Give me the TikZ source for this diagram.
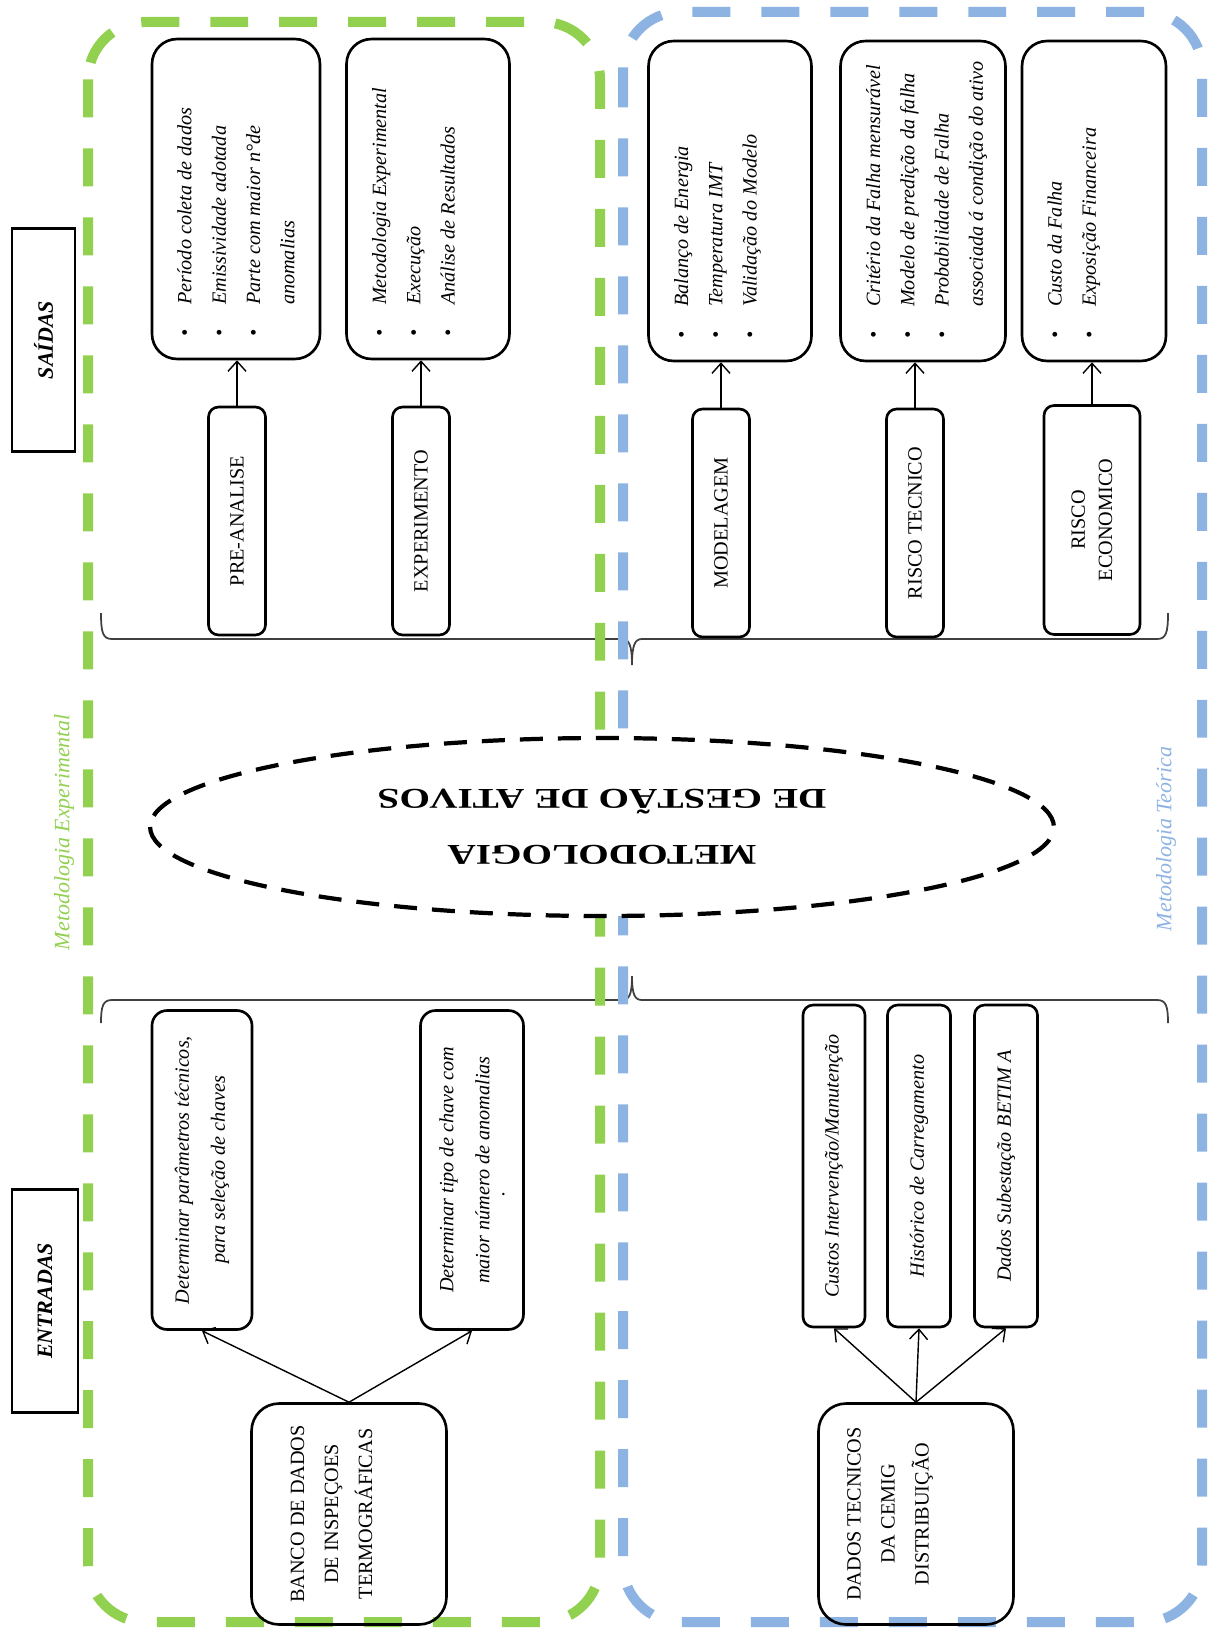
\documentclass[tikz,border=0pt]{standalone}
\usepackage{fontspec}
\setmainfont{Liberation Serif}
\usepackage{graphicx}
\definecolor{verdeexp}{RGB}{146, 208, 80}
\definecolor{azulteo}{RGB}{141, 179, 226}
\usetikzlibrary{shapes.geometric, arrows.meta}

\newcommand{\itens}[3]{\parbox[c][#1][t]{#2}{\fontsize{11.5}{19.5}\selectfont\itshape
	\begin{tabular}[t]{@{}l@{\hspace{0.5cm}}l@{}}#3\end{tabular}}}

\begin{document}
\begin{tikzpicture}[x = 0.02cm, y = -0.02cm, >={Straight Barb[length = 2mm, width = 3.6mm]},
	saida/.style = {draw, line width = 1.5pt, rounded corners = 0.5cm, rotate = 90, minimum width = 6.4cm, inner sep = 0pt},
	etapa/.style = {draw, line width = 1.5pt, rounded corners = 0.2cm, rotate = 90, minimum width = 4.56cm, minimum height = 1.14cm, align = center, font = \fontsize{11.5}{15.5}\selectfont},
	entrada/.style = {draw, line width = 1.5pt, rounded corners = 0.3cm, rotate = 90, align = center, font = \fontsize{11.5}{20.5}\selectfont\itshape},
	fonte/.style = {draw, line width = 1.5pt, rounded corners = 0.55cm, rotate = 90, minimum width = 4.42cm, minimum height = 3.9cm, align = center, font = \fontsize{11.5}{19.3}\selectfont},
	titulo/.style = {draw, line width = 1.5pt, rotate = 90, minimum width = 4.46cm, font = \fontsize{12.5}{15}\selectfont\bfseries\itshape},
	lado/.style = {rotate = 90, font = \fontsize{12.5}{15}\selectfont\itshape},
	moldura/.style = {line width = 0.2cm, dash pattern = on 0.76cm off 0.62cm, rounded corners = 1.15cm},
	chave/.style = {line width = 1pt, black!75},
	seta/.style = {line width = 0.8pt}]

	\useasboundingbox (0, 0) rectangle (1207, 1629);

	% chaves
	\draw[chave] (101, 613) .. controls (101, 633) and (103, 639) .. (112, 639) -- (622, 639) .. controls (629, 639) and (632, 645) .. (632, 665) .. controls (632, 645) and (635, 639) .. (642, 639) -- (1157, 639) .. controls (1166, 639) and (1168, 633) .. (1168, 613);
	\draw[chave] (101, 1023) .. controls (101, 1006) and (103, 1000) .. (112, 1000) -- (622, 1000) .. controls (629, 1000) and (632, 995) .. (632, 976) .. controls (632, 995) and (635, 1000) .. (642, 1000) -- (1157, 1000) .. controls (1166, 1000) and (1168, 1006) .. (1168, 1023);

	% molduras
	\draw[moldura, verdeexp] (88, 22) rectangle (600, 1622);
	\draw[moldura, azulteo] (623, 12) rectangle (1202, 1622);

	% saidas
	\node[saida, minimum height = 3.36cm] (p1) at (236, 199) {\itens{2.74cm}{5.52cm}{\textbullet & Período coleta de dados\\ \textbullet & Emissividade adotada\\ \textbullet & Parte com maior n°de\\ & anomalias}};
	\node[saida, minimum height = 3.26cm] (p2) at (428, 199) {\itens{2.64cm}{5.52cm}{\textbullet & Metodologia Experimental\\ \textbullet & Execução\\ \textbullet & Análise de Resultados}};
	\node[saida, minimum height = 3.26cm] (m1) at (730, 201) {\itens{2.64cm}{5.52cm}{\textbullet & Balanço de Energia\\ \textbullet & Temperatura IMT\\ \textbullet & Validação do Modelo}};
	\node[saida, minimum height = 3.3cm] (m2) at (923, 201) {\itens{2.68cm}{5.52cm}{\textbullet & Critério da Falha mensurável\\ \textbullet & Modelo de predição da falha\\ \textbullet & Probabilidade de Falha\\ & associada á condição do ativo}};
	\node[saida, minimum height = 2.88cm] (m3) at (1094, 201) {\itens{2.26cm}{5.52cm}{\textbullet & Custo da Falha\\ \textbullet & Exposição Financeira}};

	\node[etapa] (pre) at (237, 521) {PRE-ANALISE};
	\node[etapa] (exp) at (421, 521) {EXPERIMENTO};
	\node[etapa] (mod) at (721, 523) {MODELAGEM};
	\node[etapa] (rt) at (915, 523) {RISCO TECNICO};
	\node[etapa, minimum width = 4.58cm, minimum height = 1.92cm] (re) at (1092, 520) {RISCO\\ECONOMICO};

	% entradas
	\node[entrada, minimum width = 6.38cm, minimum height = 2cm] (det1) at (202, 1170) {Determinar parâmetros técnicos,\\para seleção de  chaves};
	\node[entrada, minimum width = 6.38cm, minimum height = 2.06cm] (det2) at (472, 1170) {Determinar tipo de chave com\\maior número de anomalias\\[-0.42cm].\hspace*{0.95cm}};
	\node[entrada, minimum width = 6.44cm, minimum height = 1.24cm, rounded corners = 0.2cm] (cus) at (834, 1166) {Custos Intervenção/Manutenção};
	\node[entrada, minimum width = 6.44cm, minimum height = 1.26cm, rounded corners = 0.2cm] (his) at (919, 1166) {Histórico de Carregamento};
	\node[entrada, minimum width = 6.44cm, minimum height = 1.26cm, rounded corners = 0.2cm] (dsub) at (1006, 1166) {Dados Subestação BETIM A};

	\node[fonte, text depth = 20pt] (ban) at (349, 1514) {BANCO DE DADOS\\DE INSPEÇOES\\TERMOGRÁFICAS};
	\node[fonte, text depth = 32pt] (dtc) at (916, 1514) {DADOS TECNICOS\\DA CEMIG\\DISTRIBUIÇÃO};

	\node[titulo, minimum height = 1.26cm] (sai) at (43.5, 340) {SAÍDAS};
	\node[titulo, minimum height = 1.32cm] (ent) at (45, 1301) {ENTRADAS};

	\node[lado, verdeexp] (mexp) at (64, 832) {Metodologia Experimental};
	\node[lado, azulteo] (mteo) at (1166, 839) {Metodologia Teórica};

	\node[ellipse, draw, fill = white, line width = 2.4pt, dash pattern = on 0.46cm off 0.3cm, minimum width = 18.08cm, minimum height = 3.56cm, rotate = 180, align = center, font = \fontsize{16.3}{32}\selectfont\bfseries] (meta) at (602, 827) {\scalebox{1.37}[1]{METODOLOGIA}\\\scalebox{1.37}[1]{DE GESTÃO DE ATIVOS}};

	\draw[seta]
		(pre.east) edge[->] (pre.east |- p1.west)
		(exp.east) edge[->] (exp.east |- p2.west)
		(mod.east) edge[->] (mod.east |- m1.west)
		(rt.east) edge[->] (rt.east |- m2.west)
		(re.east) edge[->] (re.east |- m3.west)
		(ban.east) edge[->] (det1.west)
		(ban.east) edge[->] (det2.west)
		(dtc.east) edge[->] (cus.west)
		(dtc.east) edge[->] (his.west)
		(dtc.east) edge[->] (dsub.west);
\end{tikzpicture}
\end{document}
